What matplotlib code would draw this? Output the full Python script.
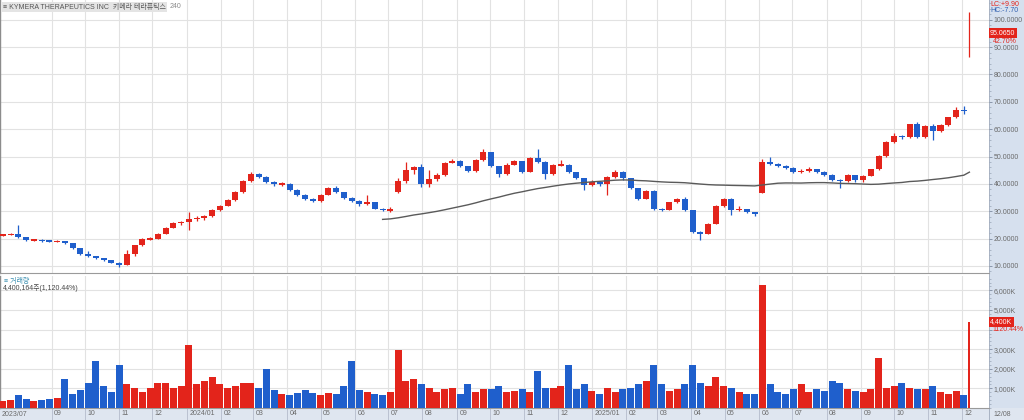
import numpy as np
import pandas as pd
import matplotlib
matplotlib.use('Agg')
import matplotlib.pyplot as plt
import matplotlib.dates as mdates
import matplotlib.transforms as mtrans
from matplotlib.patches import Rectangle
from matplotlib.ticker import FixedLocator, MultipleLocator

plt.rcParams['font.family'] = ['Liberation Sans', 'Noto Sans CJK KR', 'DejaVu Sans']

# ---------------- data (weekly) ----------------
week_start = pd.date_range('2023-07-17', periods=126, freq='7D')

opens = [21.2, 21.4, 21.6, 20.5, 19.4, 19.6, 19.2, 19.0, 19.1, 18.3,
         16.5, 14.2, 13.5, 12.8, 12.0, 11.2, 10.4, 14.3, 17.5, 19.7,
         20.0, 21.8, 24.0, 25.6, 26.0, 27.0, 27.5, 28.3, 30.5, 32.0,
         34.0, 37.0, 41.0, 43.6, 42.5, 40.8, 39.8, 40.0, 37.8, 36.0,
         34.5, 33.8, 36.0, 38.5, 37.0, 35.0, 33.6, 32.5, 33.3, 31.0,
         30.2, 37.0, 41.0, 45.0, 46.0, 40.0, 41.8, 43.2, 47.8, 48.5,
         46.5, 44.6, 48.8, 51.5, 46.5, 43.5, 47.0, 48.3, 44.5, 49.5,
         48.0, 43.5, 46.9, 47.0, 44.3, 42.0, 39.5, 40.8, 39.8, 42.5,
         44.3, 42.0, 38.5, 34.6, 37.3, 30.8, 30.6, 33.2, 34.6, 30.5,
         22.5, 21.8, 25.5, 31.8, 34.3, 30.5, 30.8, 29.7, 36.7, 48.0,
         47.3, 46.5, 45.8, 44.4, 44.8, 45.3, 44.5, 43.4, 41.5, 41.0,
         43.2, 41.3, 43.0, 45.3, 50.2, 55.3, 57.5, 57.0, 61.8, 57.3,
         61.0, 59.5, 61.5, 64.3, 67.0, 89.7]
highs = [21.8, 22.0, 25.0, 20.6, 20.0, 19.8, 19.5, 19.5, 19.3, 18.4,
         16.6, 15.5, 13.8, 13.0, 12.2, 11.4, 15.8, 17.8, 20.2, 20.6,
         22.2, 24.4, 26.0, 26.6, 29.8, 28.3, 28.6, 30.8, 32.4, 34.4,
         37.4, 41.5, 44.3, 44.0, 43.0, 40.9, 40.6, 40.2, 38.0, 36.2,
         35.0, 36.3, 39.0, 39.2, 37.2, 35.2, 34.0, 35.9, 33.5, 31.3,
         31.7, 42.0, 48.1, 46.5, 47.2, 45.1, 44.0, 48.0, 49.2, 48.7,
         46.6, 49.2, 52.6, 51.8, 46.6, 47.5, 48.9, 48.5, 50.0, 52.6,
         48.2, 47.2, 48.9, 47.2, 44.5, 42.1, 41.5, 41.0, 42.8, 45.0,
         44.6, 42.2, 38.6, 37.8, 37.8, 31.2, 33.5, 35.0, 35.2, 30.6,
         22.8, 25.8, 32.2, 34.7, 34.8, 31.8, 31.0, 29.9, 49.0, 49.9,
         47.5, 46.8, 46.0, 45.3, 46.0, 45.6, 44.8, 43.6, 41.8, 43.6,
         43.4, 43.3, 45.6, 50.6, 55.8, 58.6, 57.8, 62.0, 62.7, 61.5,
         61.8, 62.0, 64.6, 68.0, 68.5, 103.0]
lows = [21.0, 21.2, 20.3, 19.1, 19.1, 18.9, 18.7, 18.7, 18.0, 16.3,
        14.0, 13.3, 12.5, 11.8, 11.0, 9.5, 10.2, 13.8, 17.3, 19.4,
        19.8, 21.6, 23.8, 25.0, 23.1, 26.6, 26.8, 28.0, 30.2, 31.8,
        33.8, 36.8, 40.8, 42.0, 40.5, 39.3, 39.4, 37.5, 35.6, 34.2,
        33.2, 33.5, 35.8, 36.5, 34.6, 33.3, 32.0, 32.3, 30.8, 30.0,
        29.6, 36.7, 40.5, 43.5, 39.0, 38.8, 41.0, 43.0, 47.5, 46.0,
        44.2, 44.4, 48.5, 46.0, 42.6, 43.3, 46.8, 43.8, 44.3, 47.5,
        41.8, 43.2, 46.5, 44.0, 41.8, 37.8, 39.3, 39.4, 35.9, 42.2,
        41.6, 38.2, 34.0, 34.5, 30.3, 30.0, 30.4, 33.0, 30.2, 22.0,
        19.5, 21.5, 25.3, 31.5, 28.6, 30.2, 29.3, 28.3, 36.5, 46.8,
        46.0, 45.4, 44.0, 43.8, 44.5, 44.0, 43.0, 41.0, 38.4, 40.8,
        40.8, 40.6, 42.8, 45.0, 50.0, 55.0, 56.3, 56.8, 56.8, 56.8,
        56.0, 59.0, 61.2, 64.0, 65.5, 86.5]
closes = [21.4, 21.6, 20.5, 19.4, 19.6, 19.2, 19.0, 19.1, 18.3, 16.5,
          14.2, 13.5, 12.8, 12.0, 11.2, 10.4, 14.3, 17.5, 19.7, 20.0,
          21.8, 24.0, 25.6, 26.0, 27.0, 27.5, 28.3, 30.5, 32.0, 34.0,
          37.0, 41.0, 43.6, 42.5, 40.8, 39.8, 40.0, 37.8, 36.0, 34.5,
          33.8, 36.0, 38.5, 37.0, 35.0, 33.6, 32.5, 33.3, 31.0, 30.5,
          30.8, 41.0, 45.0, 46.0, 40.0, 41.8, 43.2, 47.8, 48.5, 46.5,
          44.6, 48.8, 51.5, 46.5, 43.5, 47.0, 48.3, 44.5, 49.5, 48.0,
          43.5, 46.9, 47.0, 44.3, 42.0, 39.5, 40.8, 39.8, 42.5, 44.3,
          42.0, 38.5, 34.6, 37.3, 30.8, 30.6, 33.2, 34.6, 30.5, 22.5,
          21.8, 25.5, 31.8, 34.3, 30.5, 30.8, 29.7, 29.0, 48.0, 47.3,
          46.5, 45.8, 44.4, 44.8, 45.3, 44.5, 43.4, 41.5, 41.0, 43.2,
          41.3, 43.0, 45.3, 50.2, 55.3, 57.5, 57.0, 61.8, 57.3, 61.0,
          59.5, 61.5, 64.3, 67.0, 66.6, 95.065]
volume_k = [350, 400, 650, 450, 350, 400, 450, 500, 1500, 700,
            900, 1300, 2400, 1100, 800, 2200, 1200, 1000, 800, 1000,
            1300, 1300, 1000, 1100, 3200, 1200, 1400, 1600, 1200, 1000,
            1100, 1300, 1300, 1000, 2000, 900, 700, 650, 750, 900,
            750, 650, 750, 700, 1100, 2400, 900, 800, 700, 650,
            800, 2950, 1400, 1500, 1200, 1000, 800, 950, 1000, 700,
            1200, 800, 950, 950, 1100, 800, 850, 950, 800, 1900,
            1000, 1000, 1100, 2200, 950, 1200, 850, 700, 1000, 800,
            950, 1000, 1200, 1400, 2200, 1200, 850, 950, 1200, 2200,
            1300, 1100, 1600, 1100, 1000, 800, 700, 700, 6300, 1200,
            800, 700, 950, 1200, 800, 950, 850, 1400, 1300, 950,
            850, 800, 950, 2550, 1000, 1100, 1300, 1000, 950, 950,
            1100, 800, 700, 850, 650, 4400]

price_ticks = [10, 20, 30, 40, 50, 60, 70, 80, 90, 100]
vol_ticks = [1000, 2000, 3000, 4000, 5000, 6000]
vol_tick_labels = ['1,000K', '2,000K', '3,000K', '', '5,000K', '6,000K']
month_labels = ['09', '10', '11', '12', '2024/01', '02', '03', '04', '05', '06',
                '07', '08', '09', '10', '11', '12', '2025/01', '02', '03', '04',
                '05', '06', '07', '08', '09', '10', '11', '12']
month_starts = pd.date_range('2023-09-01', periods=28, freq='MS')
last_close = 95.065
last_change_pct = 42.70
last_volume = 4400164
last_volume_pct = 1120.44
MA_WEEKS = 50

# ---------------- styling ----------------
RED = '#e3241b'
BLUE = '#1f5fcc'
GRID = '#e2e2e2'
TXT = '#6a6a6a'
BAND = '#d6e0ee'

o = np.array(opens); h = np.array(highs); l = np.array(lows); c = np.array(closes)
v = np.array(volume_k, dtype=float)
xd = list(week_start + pd.Timedelta(days=2))
xd[-1] = week_start[-1]
x = mdates.date2num(pd.DatetimeIndex(xd))
up = c >= o
col = np.where(up, RED, BLUE)
ma = pd.Series(c).rolling(MA_WEEKS).mean().values

W, H = 1024, 420
fig = plt.figure(figsize=(W / 100, H / 100), dpi=100)
fig.patch.set_facecolor('white')
fig.patches.append(Rectangle((989 / W, 0), 1 - 989 / W, 1, transform=fig.transFigure,
                             facecolor=BAND, edgecolor='none', zorder=-2))
fig.patches.append(Rectangle((0, 0), 1, 12 / H, transform=fig.transFigure,
                             facecolor='#dfe6f0', edgecolor='none', zorder=-2))
fig.patches.append(Rectangle((989 / W, 0), 0.8 / W, 1, transform=fig.transFigure,
                             facecolor='#aab4c4', edgecolor='none', zorder=-1))

axp = fig.add_axes([0, (H - 273) / H, 989 / W, 273 / H])
axv = fig.add_axes([0, 12 / H, 989 / W, (408 - 276) / H], sharex=axp)

x_left = mdates.date2num(pd.Timestamp('2023-07-16 10:00'))
x_right = x_left + 893.3


def py(ypx):
    return (293.3 - ypx) * 0.3656


for ax in (axp, axv):
    ax.set_facecolor('white')
    ax.set_xlim(x_left, x_right)
    for s in ('top', 'right'):
        ax.spines[s].set_visible(False)
    ax.spines['left'].set_color('#8c8c8c')
    ax.spines['bottom'].set_color('#9a9a9a')
    ax.spines['left'].set_linewidth(1.0)
    ax.spines['bottom'].set_linewidth(0.8)
    ax.xaxis.set_major_locator(FixedLocator(mdates.date2num(month_starts)))
    ax.grid(True, color=GRID, linewidth=0.8)
    ax.set_axisbelow(True)
    ax.yaxis.tick_right()
    ax.tick_params(axis='y', which='major', length=2.5, width=0.6, color='#7d8aa0',
                   labelsize=5, labelcolor=TXT, pad=1.0)
    ax.tick_params(axis='y', which='minor', length=1.2, width=0.5, color='#98a4b6')

# price panel
axp.set_ylim(py(273), py(0))
axp.yaxis.set_major_locator(FixedLocator(price_ticks))
axp.yaxis.set_minor_locator(MultipleLocator(2))
axp.set_yticklabels([f'{t:.4f}' for t in price_ticks])
axp.tick_params(axis='x', which='both', length=0, labelbottom=False)

axp.vlines(x, l, h, colors=col, linewidth=0.9, zorder=3)
body = np.maximum(np.abs(c - o), 0.5)
widths = np.full(len(x), 5.6)
widths[-1] = 1.4
axp.bar(x, body, bottom=np.minimum(o, c) - (body - np.abs(c - o)) / 2, width=widths,
        color=col, linewidth=0, zorder=4)
axp.plot(x, ma, color='#5a5a5a', linewidth=1.0, zorder=5)

# volume panel
axv.set_ylim(0, (408 - 276) / 19.6 * 1000)
axv.yaxis.set_major_locator(FixedLocator(vol_ticks))
axv.yaxis.set_minor_locator(MultipleLocator(200))
axv.set_yticklabels(vol_tick_labels)
vw = np.full(len(x), 6.4)
vw[-1] = 1.6
axv.bar(x, v, width=vw, color=col, linewidth=0, zorder=3)
axv.tick_params(axis='x', which='major', length=8.6, width=0.6, color='#b4bccb',
                labelsize=5, labelcolor=TXT, pad=-7.4)
axv.set_xticklabels(month_labels, ha='left', va='top')
off = mtrans.ScaledTranslation(2.5 / 100, 0, fig.dpi_scale_trans)
for lab in axv.get_xticklabels():
    lab.set_transform(lab.get_transform() + off)


def ft(xp, yp, s, **kw):
    return fig.text(xp / W, 1 - yp / H, s, **kw)


ft(3, 7, '≡ KYMERA THERAPEUTICS INC  키메라 테라퓨틱스', fontsize=5.0, color='#555555', va='center',
   ha='left', bbox=dict(boxstyle='square,pad=0.15', facecolor='#e4e4e4', edgecolor='none'))
ft(170, 7, '240', fontsize=5.0, color='#8a8a8a', va='center', ha='left')

ft(990, 4, 'LC:+9.90', fontsize=5, color=RED, va='center', ha='left')
ft(990, 11, 'HC:-7.70', fontsize=5, color='#3060b0', va='center', ha='left')
yb = 293.3 - last_close / 0.3656
ft(990, yb, f'{last_close:.4f}', fontsize=5, color='white', va='center', ha='left',
   bbox=dict(boxstyle='square,pad=0.2', facecolor=RED, edgecolor='none'))
ft(993, yb + 8, f'{last_change_pct:.2f}%', fontsize=5, color=RED, va='center', ha='left')

ft(4, 281, '≡ 거래량', fontsize=5.0, color='#3a8fb0', va='center', ha='left')
ft(3, 288, f'{last_volume:,}주({last_volume_pct:,.2f}%)', fontsize=5.0, color='#444444',
   va='center', ha='left')
yv = 408 - last_volume / 1e6 * 19.6
ft(990, yv, f'{last_volume / 1000:,.0f}K', fontsize=5, color='white', va='center', ha='left',
   bbox=dict(boxstyle='square,pad=0.2', facecolor=RED, edgecolor='none'))
ft(992, yv + 8, f'{last_volume_pct:.2f}%', fontsize=5, color=RED, va='center', ha='left')

ft(2, 414, '2023/07', fontsize=5, color=TXT, va='center', ha='left')
ft(993, 414, '12/08', fontsize=5, color=TXT, va='center', ha='left')

fig.savefig('out.png', dpi=100, facecolor='white')
